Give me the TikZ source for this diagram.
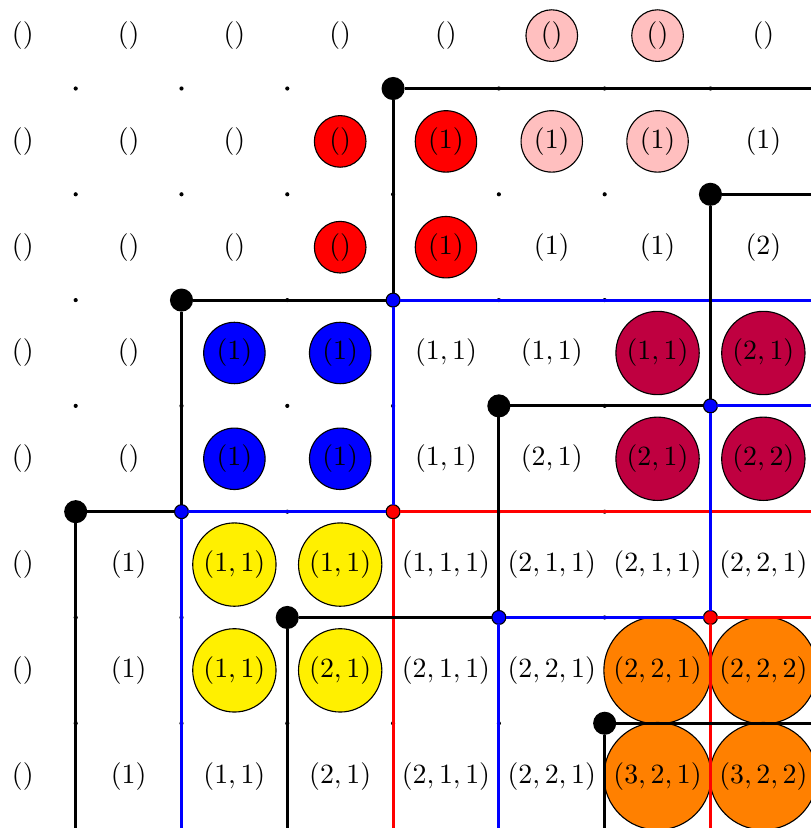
\documentclass[tikz,border=0pt]{standalone}
\definecolor{myyellow}{RGB}{255,240,0}
\tikzset{
  lab/.style={circle, inner sep=2.1pt, outer sep=0pt},
  disc/.style={lab, draw=black, line width=0.4pt, fill=#1},
  bigdot/.style={circle, fill=black, inner sep=0pt, outer sep=0pt, minimum size=8.3pt},
  jdot/.style={circle, draw=black, line width=0.4pt, fill=#1, inner sep=0pt, outer sep=0pt, minimum size=5pt},
  blk/.style={line width=1.1pt, black},
  bln/.style={line width=1.1pt, blue},
  rdn/.style={line width=1.1pt, red},
}
\begin{document}
\begin{tikzpicture}[x=38pt, y=-38pt]
\useasboundingbox (-0.2155,-0.3365) rectangle (7.450,7.490);
\clip (-0.2155,-0.3365) rectangle (7.450,7.490);
% row 0
\node[lab] (n00) at (0,0) {$()$};
\node[lab] (n10) at (1,0) {$()$};
\node[lab] (n20) at (2,0) {$()$};
\node[lab] (n30) at (3,0) {$()$};
\node[lab] (n40) at (4,0) {$()$};
\node[disc=pink] (n50) at (5,0) {$()$};
\node[disc=pink] (n60) at (6,0) {$()$};
\node[lab] (n70) at (7,0) {$()$};
% row 1
\node[lab] (n01) at (0,1) {$()$};
\node[lab] (n11) at (1,1) {$()$};
\node[lab] (n21) at (2,1) {$()$};
\node[disc=red] (n31) at (3,1) {$()$};
\node[disc=red] (n41) at (4,1) {$(1)$};
\node[disc=pink] (n51) at (5,1) {$(1)$};
\node[disc=pink] (n61) at (6,1) {$(1)$};
\node[lab] (n71) at (7,1) {$(1)$};
% row 2
\node[lab] (n02) at (0,2) {$()$};
\node[lab] (n12) at (1,2) {$()$};
\node[lab] (n22) at (2,2) {$()$};
\node[disc=red] (n32) at (3,2) {$()$};
\node[disc=red] (n42) at (4,2) {$(1)$};
\node[lab] (n52) at (5,2) {$(1)$};
\node[lab] (n62) at (6,2) {$(1)$};
\node[lab] (n72) at (7,2) {$(2)$};
% row 3
\node[lab] (n03) at (0,3) {$()$};
\node[lab] (n13) at (1,3) {$()$};
\node[disc=blue] (n23) at (2,3) {$(1)$};
\node[disc=blue] (n33) at (3,3) {$(1)$};
\node[lab] (n43) at (4,3) {$(1,1)$};
\node[lab] (n53) at (5,3) {$(1,1)$};
\node[disc=purple] (n63) at (6,3) {$(1,1)$};
\node[disc=purple] (n73) at (7,3) {$(2,1)$};
% row 4
\node[lab] (n04) at (0,4) {$()$};
\node[lab] (n14) at (1,4) {$()$};
\node[disc=blue] (n24) at (2,4) {$(1)$};
\node[disc=blue] (n34) at (3,4) {$(1)$};
\node[lab] (n44) at (4,4) {$(1,1)$};
\node[lab] (n54) at (5,4) {$(2,1)$};
\node[disc=purple] (n64) at (6,4) {$(2,1)$};
\node[disc=purple] (n74) at (7,4) {$(2,2)$};
% row 5
\node[lab] (n05) at (0,5) {$()$};
\node[lab] (n15) at (1,5) {$(1)$};
\node[disc=myyellow] (n25) at (2,5) {$(1,1)$};
\node[disc=myyellow] (n35) at (3,5) {$(1,1)$};
\node[lab] (n45) at (4,5) {$(1,1,1)$};
\node[lab] (n55) at (5,5) {$(2,1,1)$};
\node[lab] (n65) at (6,5) {$(2,1,1)$};
\node[lab] (n75) at (7,5) {$(2,2,1)$};
% row 6
\node[lab] (n06) at (0,6) {$()$};
\node[lab] (n16) at (1,6) {$(1)$};
\node[disc=myyellow] (n26) at (2,6) {$(1,1)$};
\node[disc=myyellow] (n36) at (3,6) {$(2,1)$};
\node[lab] (n46) at (4,6) {$(2,1,1)$};
\node[lab] (n56) at (5,6) {$(2,2,1)$};
\node[disc=orange] (n66) at (6,6) {$(2,2,1)$};
\node[disc=orange] (n76) at (7,6) {$(2,2,2)$};
% row 7
\node[lab] (n07) at (0,7) {$()$};
\node[lab] (n17) at (1,7) {$(1)$};
\node[lab] (n27) at (2,7) {$(1,1)$};
\node[lab] (n37) at (3,7) {$(2,1)$};
\node[lab] (n47) at (4,7) {$(2,1,1)$};
\node[lab] (n57) at (5,7) {$(2,2,1)$};
\node[disc=orange] (n67) at (6,7) {$(3,2,1)$};
\node[disc=orange] (n77) at (7,7) {$(3,2,2)$};
% small lattice dots
\foreach \i in {0,...,6} \foreach \j in {0,...,6} \fill (\i+0.5,\j+0.5) circle (0.75pt);
% corner dots
\node[bigdot] (A1) at (3.5,0.5) {};
\node[bigdot] (A2) at (6.5,1.5) {};
\node[bigdot] (A3) at (1.5,2.5) {};
\node[bigdot] (A4) at (4.5,3.5) {};
\node[bigdot] (A5) at (0.5,4.5) {};
\node[bigdot] (A6) at (2.5,5.5) {};
\node[bigdot] (A7) at (5.5,6.5) {};
\node[jdot=blue] (B1) at (3.5,2.5) {};
\node[jdot=blue] (B2) at (6.5,3.5) {};
\node[jdot=blue] (B3) at (1.5,4.5) {};
\node[jdot=blue] (B4) at (4.5,5.5) {};
\node[jdot=red] (Q1) at (3.5,4.5) {};
\node[jdot=red] (Q2) at (6.5,5.5) {};
% free ends at the edges
\coordinate (er0) at (7.7,0.5);
\coordinate (er1) at (7.7,1.5);
\coordinate (er2) at (7.7,2.5);
\coordinate (er3) at (7.7,3.5);
\coordinate (er4) at (7.7,4.5);
\coordinate (er5) at (7.7,5.5);
\coordinate (er6) at (7.7,6.5);
\coordinate (eb0) at (0.5,7.7);
\coordinate (eb1) at (1.5,7.7);
\coordinate (eb2) at (2.5,7.7);
\coordinate (eb3) at (3.5,7.7);
\coordinate (eb4) at (4.5,7.7);
\coordinate (eb5) at (5.5,7.7);
\coordinate (eb6) at (6.5,7.7);
% red lines
\draw[rdn] (Q1) -- (er4);
\draw[rdn] (Q1) -- (eb3);
\draw[rdn] (Q2) -- (er5);
\draw[rdn] (Q2) -- (eb6);
% blue lines
\draw[bln] (B1) -- (er2);
\draw[bln] (B1) -- (Q1);
\draw[bln] (B2) -- (er3);
\draw[bln] (B2) -- (Q2);
\draw[bln] (B3) -- (Q1);
\draw[bln] (B3) -- (eb1);
\draw[bln] (B4) -- (Q2);
\draw[bln] (B4) -- (eb4);
% black lines
\draw[blk] (A1) -- (er0);
\draw[blk] (A1) -- (B1);
\draw[blk] (A2) -- (er1);
\draw[blk] (A2) -- (B2);
\draw[blk] (A3) -- (B1);
\draw[blk] (A3) -- (B3);
\draw[blk] (A4) -- (B2);
\draw[blk] (A4) -- (B4);
\draw[blk] (A5) -- (B3);
\draw[blk] (A5) -- (eb0);
\draw[blk] (A6) -- (B4);
\draw[blk] (A6) -- (eb2);
\draw[blk] (A7) -- (er6);
\draw[blk] (A7) -- (eb5);
\end{tikzpicture}
\end{document}
